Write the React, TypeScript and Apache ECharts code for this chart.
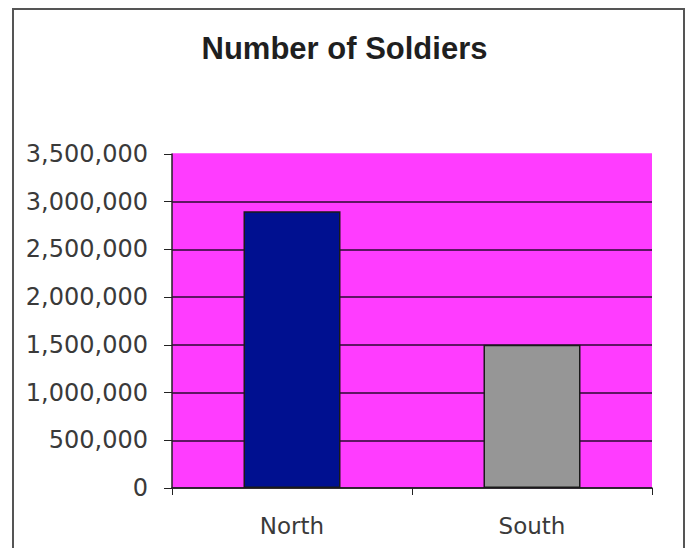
import React, { useEffect, useRef } from "react";
import * as echarts from "echarts";

const titleText = "Number of Soldiers";
const categories = ["North", "South"];
const soldiers = [2900000, 1500000];
const barColors = ["#001090", "#969696"];
const yMin = 0;
const yMax = 3500000;
const yInterval = 500000;

export default function App() {
  const ref = useRef<HTMLDivElement>(null);
  useEffect(() => {
    if (!ref.current) return;
    const chart = echarts.init(ref.current, null, { renderer: "svg" });
    const lineCount = (yMax - yMin) / yInterval + 1;
    const splitColors: string[] = [];
    for (let i = 0; i < lineCount; i++) splitColors.push(i === lineCount - 1 ? "#ff3cff" : "#2a0a30");
    chart.setOption({
      animation: false,
      backgroundColor: "#ffffff",
      title: {
        text: titleText,
        left: "center",
        top: 28,
        textStyle: { fontFamily: "Liberation Sans, Arial", fontSize: 31, fontWeight: "bold", color: "#1f1f1f" },
      },
      graphic: [
        {
          type: "rect",
          shape: { x: 13, y: 9, width: 671, height: 560 },
          style: { fill: "none", stroke: "#555", lineWidth: 2 },
          silent: true,
        },
      ],
      grid: { left: 172, top: 154, width: 480, height: 334, backgroundColor: "#ff3cff", show: true, borderWidth: 0 },
      xAxis: {
        type: "category",
        data: categories,
        axisLine: { show: true, lineStyle: { color: "#222", width: 1.5 } },
        axisTick: { show: true, alignWithLabel: false, length: 7, lineStyle: { color: "#222" } },
        axisLabel: { margin: 26, fontFamily: "DejaVu Sans", fontSize: 23, color: "#3a3a3a" },
      },
      yAxis: {
        type: "value",
        min: yMin,
        max: yMax,
        interval: yInterval,
        axisLine: { show: true, lineStyle: { color: "#222", width: 1.5 } },
        axisTick: { show: true, length: 8, lineStyle: { color: "#222" } },
        axisLabel: {
          margin: 24,
          fontFamily: "DejaVu Sans",
          fontSize: 24,
          color: "#3a3a3a",
          formatter: (v: number) => v.toLocaleString("en-US"),
        },
        splitLine: { show: true, lineStyle: { color: splitColors, width: 1.5 } },
      },
      series: [
        {
          type: "bar",
          barWidth: 97,
          data: soldiers.map((v, i) => ({
            value: v,
            itemStyle: { color: barColors[i], borderColor: "#1a1a1a", borderWidth: 1.5 },
          })),
        },
      ],
    });
    return () => chart.dispose();
  }, []);
  return <div ref={ref} style={{ position: "fixed", left: 0, top: 0, width: 689, height: 548 }} />;
}
